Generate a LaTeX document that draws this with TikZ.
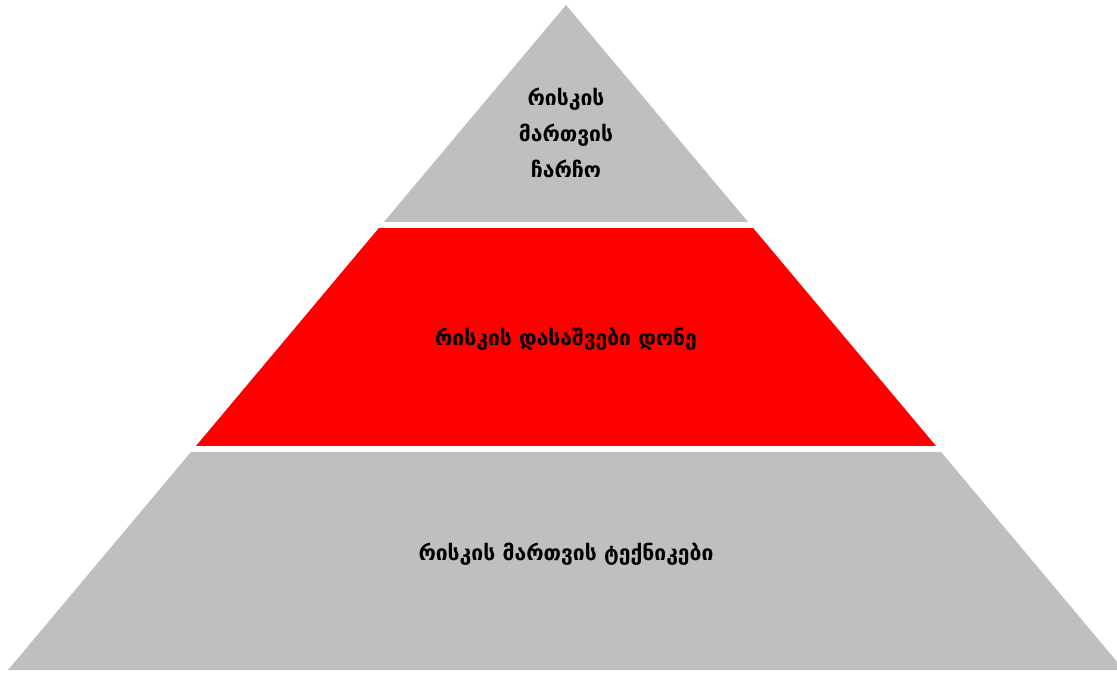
\documentclass[tikz,border=0pt]{standalone}
\usepackage{fontspec}
\newfontfamily\geofont{DejaVu Sans}

\begin{document}
\begin{tikzpicture}
[x=0.02cm, y=-0.02cm, every node/.style={color=black, font=\geofont\bfseries\fontsize{12}{20.5}\selectfont, align=center}]
    \useasboundingbox (0, 0) rectangle (1117, 673);
    \coordinate (apex) at (566, 5);
    \coordinate (baseL) at (8, 670);
    \coordinate (baseR) at (1124, 670);
    % pyramid cut into three layers
    \begin{scope}
        \clip (apex) -- (baseL) -- (baseR) -- cycle;
        \fill[gray!50] (0, 0) rectangle (1130, 222);
        \fill[red] (0, 228) rectangle (1130, 446);
        \fill[gray!50] (0, 452) rectangle (1130, 673);
    \end{scope}
    % labels
    \node (top) at (566, 133) {რისკის\\მართვის\\ჩარჩო};
    \node (mid) at (566, 339) {რისკის დასაშვები დონე};
    \node (bot) at (566, 554) {რისკის მართვის ტექნიკები};
\end{tikzpicture}
\end{document}
